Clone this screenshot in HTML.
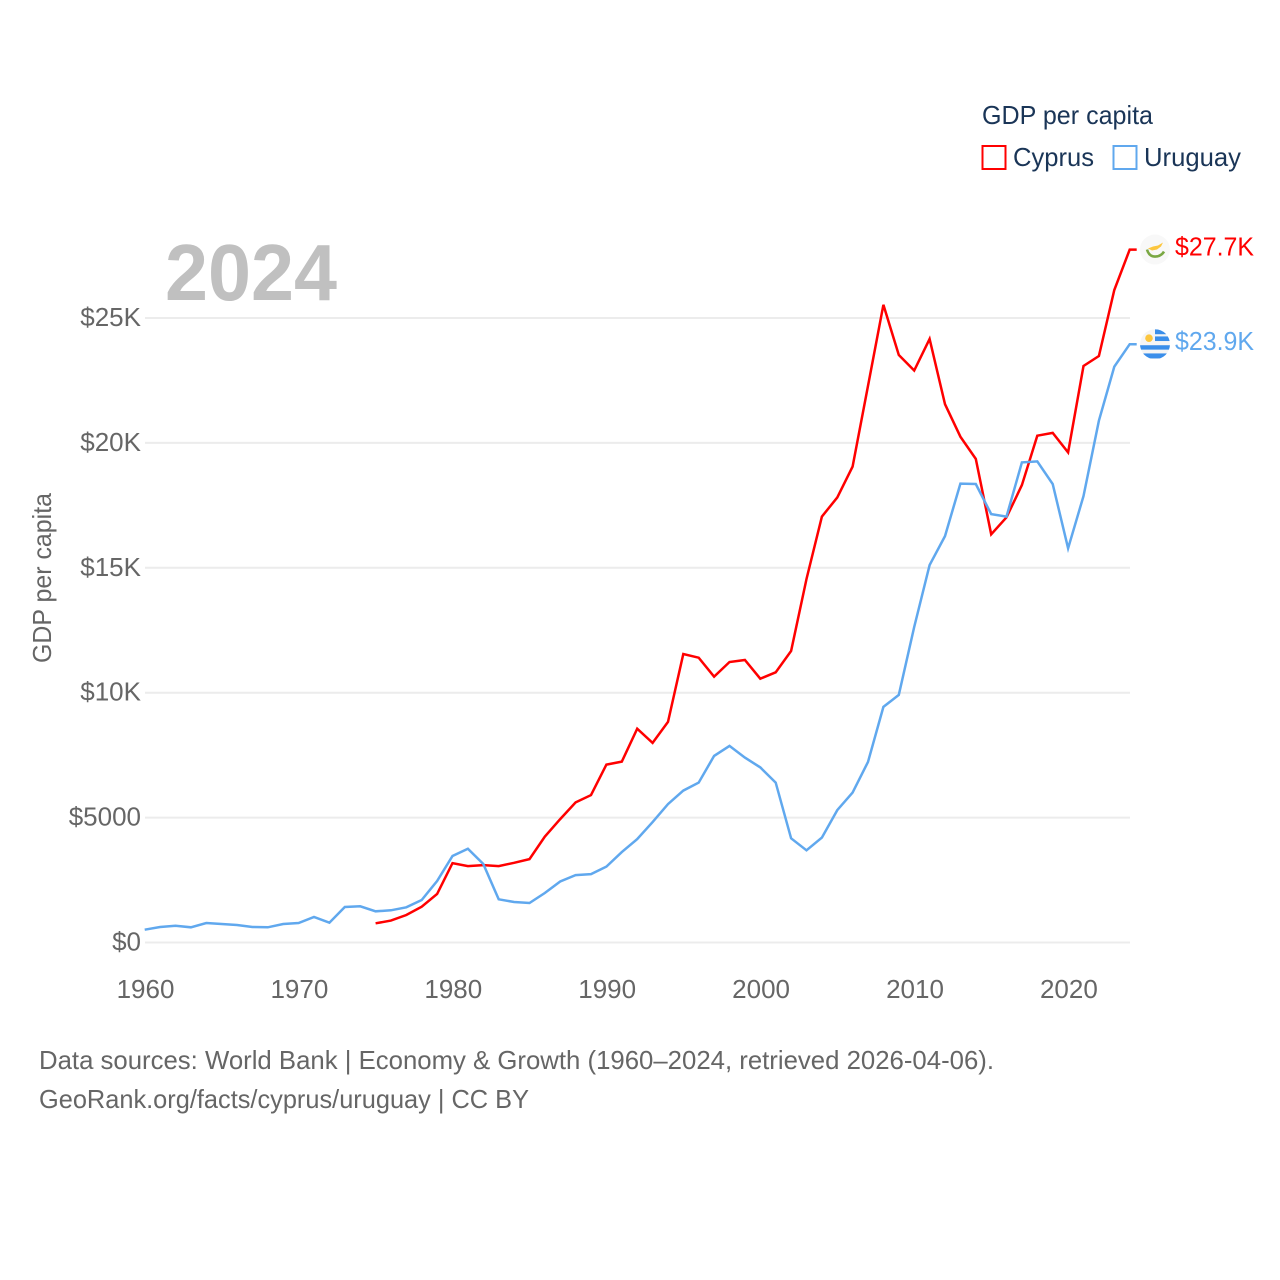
<!DOCTYPE html>
<html lang="en">
<head>
<meta charset="utf-8">
<title>GDP per capita: Cyprus and Uruguay</title>
<style>
  html, body { margin: 0; padding: 0; background: #fff; }
  svg { display: block; font-family: "Liberation Sans", sans-serif; }
  .tick { font-size: 26px; fill: #666; }
  .note { font-size: 26px; fill: #666; }
  .legend-text { font-size: 26px; fill: #1a3557; }
</style>
</head>
<body>
<svg id="chart" width="1280" height="1280" viewBox="0 0 1280 1280" xmlns="http://www.w3.org/2000/svg">
  <g id="grid"></g>
  <g id="y-ticks"></g>
  <g id="x-ticks"></g>
  <text x="165" y="300" font-size="80" font-weight="700" fill="#c0c0c0" textLength="172" lengthAdjust="spacingAndGlyphs">2024</text>
  <text class="note" transform="translate(51,663) rotate(-90)" textLength="170" lengthAdjust="spacingAndGlyphs">GDP per capita</text>
  <g id="series"></g>
  <g id="end-labels"></g>
  <g>
    <text class="legend-text" x="982" y="124" textLength="171" lengthAdjust="spacingAndGlyphs">GDP per capita</text>
    <rect x="982.5" y="146" width="23" height="23" fill="none" stroke="#ff0000" stroke-width="2"/>
    <text class="legend-text" x="1013" y="166" textLength="81" lengthAdjust="spacingAndGlyphs">Cyprus</text>
    <rect x="1113.5" y="146" width="23" height="23" fill="none" stroke="#60a8ee" stroke-width="2"/>
    <text class="legend-text" x="1144" y="166" textLength="97" lengthAdjust="spacingAndGlyphs">Uruguay</text>
  </g>
  <text class="note" x="39" y="1069" textLength="955" lengthAdjust="spacingAndGlyphs">Data sources: World Bank | Economy &amp; Growth (1960–2024, retrieved 2026-04-06).</text>
  <text class="note" x="39" y="1108" textLength="490" lengthAdjust="spacingAndGlyphs">GeoRank.org/facts/cyprus/uruguay | CC BY</text>
</svg>
<script>
const startYear = 1960;
const yTickValues = [0, 5000, 10000, 15000, 20000, 25000];
const yTickLabels = ["$0", "$5000", "$10K", "$15K", "$20K", "$25K"];
const xTickValues = [1960, 1970, 1980, 1990, 2000, 2010, 2020];
const xTickLabels = ["1960", "1970", "1980", "1990", "2000", "2010", "2020"];
const cyprusValues = [null, null, null, null, null, null, null, null, null, null,
  null, null, null, null, null,
  770, 875, 1100, 1433, 1940,
  3180, 3060, 3100, 3060, 3190, 3340, 4235, 4940, 5610, 5900,
  7120, 7240, 8560, 7990, 8830, 11550, 11400, 10640, 11230, 11310,
  10560, 10815, 11670, 14550, 17050, 17820, 19050, 22280, 25530, 23520,
  22900, 24160, 21550, 20250, 19360, 16340, 17020, 18310, 20290, 20400,
  19620, 23080, 23480, 26120, 27740];
const uruguayValues = [513, 620, 673, 608, 780, 740, 700, 620, 608, 740,
  780, 1020, 793, 1421, 1449, 1249, 1289, 1409, 1701, 2462,
  3463, 3755, 3143, 1729, 1621, 1581, 1980, 2440, 2700, 2740,
  3040, 3620, 4140, 4820, 5540, 6080, 6400, 7470, 7870, 7400,
  7010, 6400, 4170, 3690, 4200, 5300, 6000, 7230, 9430, 9910,
  12630, 15110, 16270, 18370, 18355, 17150, 17050, 19220, 19260, 18355,
  15780, 17870, 20890, 23050, 23950];

const NS = "http://www.w3.org/2000/svg";
const xAxis = year => 144.7 + (year - 1960) * 15.39;
const yAxis = value => 942.5 - value * 0.02498;

function make(tag, attrs, parent) {
  const el = document.createElementNS(NS, tag);
  for (const k in attrs) el.setAttribute(k, attrs[k]);
  parent.appendChild(el);
  return el;
}

const grid = document.getElementById("grid");
const yTicks = document.getElementById("y-ticks");
const xTicks = document.getElementById("x-ticks");
const series = document.getElementById("series");
const endLabels = document.getElementById("end-labels");

yTickValues.forEach((v, i) => {
  const line = make("line", {x1: 145, x2: 1130, y1: yAxis(v), y2: yAxis(v), stroke: "#ececec", "stroke-width": 2}, grid);
  
  
  const label = make("text", {class: "tick", x: 141, y: yAxis(v) + 8, "text-anchor": "end"}, yTicks);
  
  
  label.textContent = yTickLabels[i];
});

xTickValues.forEach((v, i) => {
  const label = make("text", {class: "tick", x: xAxis(v) + 0.8, y: 998, "text-anchor": "middle"}, xTicks);
  
  
  label.textContent = xTickLabels[i];
});

function buildPath(values) {
  let d = "";
  let lastValue = null;
  values.forEach((v, i) => {
    if (v === null) return;
    d += (d ? "L" : "M") + xAxis(startYear + i).toFixed(1) + " " + yAxis(v).toFixed(1);
    lastValue = v;
  });
  d += "L" + (xAxis(startYear + values.length - 1) + 7).toFixed(1) + " " + yAxis(lastValue).toFixed(1);
  return d;
}

function formatValue(v) {
  return "$" + (v / 1000).toFixed(1) + "K";
}

const cyprusLine = make("path", {d: buildPath(cyprusValues), fill: "none", stroke: "#ff0000", "stroke-width": 2.5, "stroke-linejoin": "miter"}, series);



const uruguayLine = make("path", {d: buildPath(uruguayValues), fill: "none", stroke: "#60a8ee", "stroke-width": 2.5, "stroke-linejoin": "miter"}, series);



const cyprusLast = cyprusValues[cyprusValues.length - 1];
const uruguayLast = uruguayValues[uruguayValues.length - 1];

const cyprusFlag = make("g", {transform: "translate(1155," + yAxis(cyprusLast) + ")"}, endLabels);


make("circle", {r: 15, fill: "#f8f8f8"}, cyprusFlag);
make("path", {d: "M-7 -1 L-2 -3 L3 -4 L8 -7 L6 -3 L2 0 L-3 1 Z", fill: "#fcc63e"}, cyprusFlag);
make("path", {d: "M-8 0 Q-6 7 0 7 Q6 7 9 2", fill: "none", stroke: "#7aa843", "stroke-width": 2.6}, cyprusFlag);

const cyprusLabel = make("text", {x: 1175, y: yAxis(cyprusLast) + 6, "font-size": 26, fill: "#ff0000", textLength: 79, lengthAdjust: "spacingAndGlyphs"}, endLabels);


cyprusLabel.textContent = formatValue(cyprusLast);

const uruguayFlag = make("g", {transform: "translate(1155," + yAxis(uruguayLast) + ")"}, endLabels);


const clip = make("clipPath", {id: "uruguay-clip"}, uruguayFlag);
make("circle", {r: 15}, clip);
const clipped = make("g", {"clip-path": "url(#uruguay-clip)"}, uruguayFlag);
make("circle", {r: 15, fill: "#f5f5f5"}, clipped);
make("rect", {x: 0, y: -15, width: 15, height: 5, fill: "#3a8eea"}, clipped);
make("rect", {x: 0, y: -7.8, width: 15, height: 4.6, fill: "#3a8eea"}, clipped);
make("rect", {x: -15, y: 1, width: 30, height: 4.4, fill: "#3a8eea"}, clipped);
make("rect", {x: -15, y: 9.2, width: 30, height: 5, fill: "#3a8eea"}, clipped);
make("circle", {cx: -6, cy: -6, r: 3.8, fill: "#fcc63e"}, clipped);

const uruguayLabel = make("text", {x: 1175, y: yAxis(uruguayLast) + 6, "font-size": 26, fill: "#60a8ee", textLength: 79, lengthAdjust: "spacingAndGlyphs"}, endLabels);


uruguayLabel.textContent = formatValue(uruguayLast);
</script>
</body>
</html>
